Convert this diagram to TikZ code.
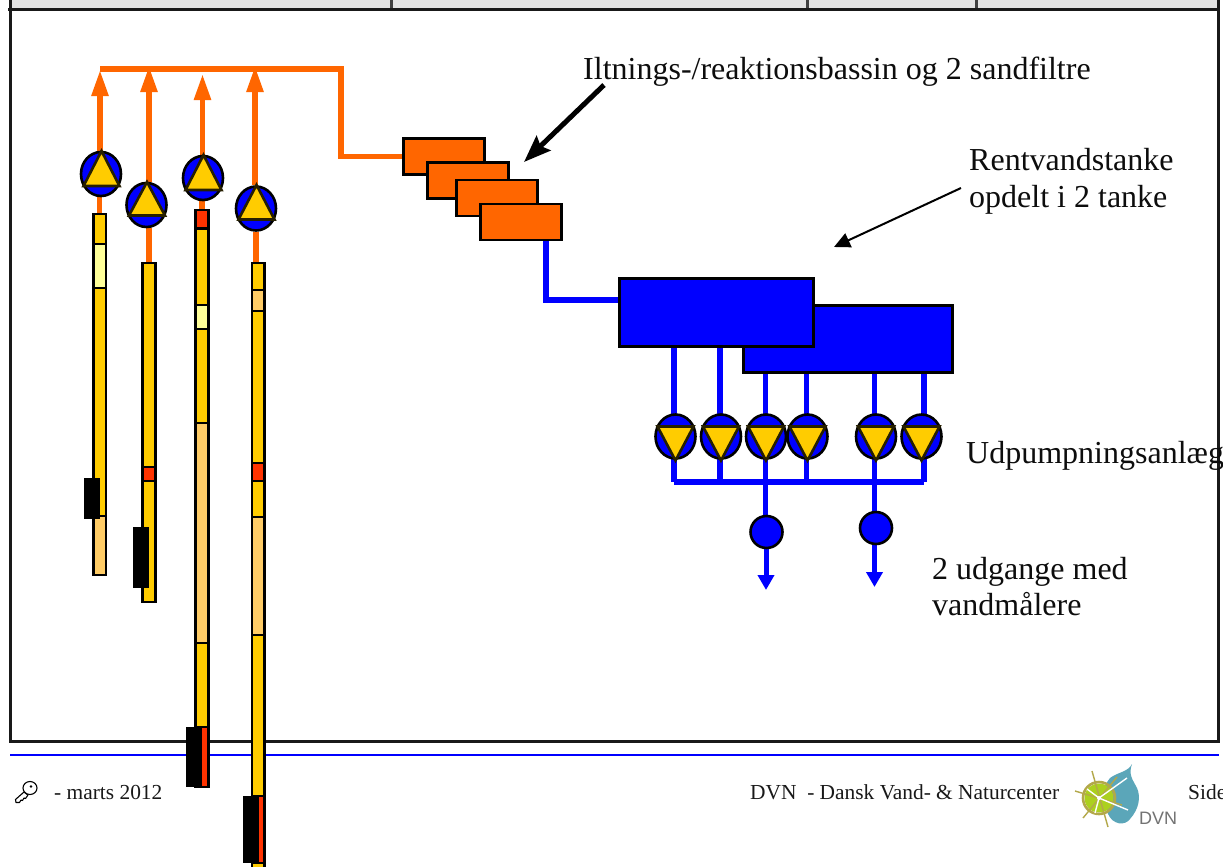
\documentclass[tikz,border=0pt]{standalone}
\usepackage{fontspec}
\setmainfont{Liberation Serif}
\newfontfamily\logofont{Liberation Sans}
\usetikzlibrary{arrows.meta,shapes.geometric,backgrounds}
\definecolor{ylw}{HTML}{FFCC00}
\definecolor{tan}{HTML}{FFCC66}
\definecolor{lyl}{HTML}{FFFF99}
\definecolor{rdd}{HTML}{FF3300}
\definecolor{org}{HTML}{FF6600}
\definecolor{blu}{HTML}{0000FF}
\definecolor{hdr}{HTML}{E3E3E3}
\definecolor{drop}{HTML}{5BA6B9}
\definecolor{lime}{HTML}{ACD01E}
\definecolor{rim}{HTML}{B3A84A}
\tikzset{
  x=1pt,y=-1pt,
  lbl/.style={anchor=base west,inner sep=0pt,font=\fontsize{32}{32}\selectfont,text=black!95},
  foot/.style={anchor=base west,inner sep=0pt,font=\fontsize{21.4}{22}\selectfont,text=black!90},
  oline/.style={draw=org,line width=5.5pt},
  bline/.style={draw=blu,line width=5.5pt},
  oarrow/.style={oline,-{Triangle[length=26pt,width=16pt]}},
  barrow/.style={bline,line width=5pt,-{Triangle[length=15pt,width=16pt]}},
  seg/.style={draw=black,line width=2.6pt,fill=#1},
  filterbox/.style={draw=black,line width=2.6pt,fill=org,inner sep=0pt,minimum width=81pt,minimum height=36pt},
  tankbox/.style={draw=black,line width=2.6pt,fill=blu,inner sep=0pt},
  pumpdisc/.style={ellipse,draw=black,line width=2.6pt,fill=blu,inner sep=0pt,minimum width=40pt,minimum height=44pt},
  meter/.style={circle,draw=black,line width=2.6pt,fill=blu,inner sep=0pt,minimum size=32pt},
  pumptri/.style={draw=black!85!ylw,line width=2.6pt,fill=ylw,line join=miter},
  sensor/.style={fill=black,draw=none},
}
% up pump: name, x, y, apex y, base y
\newcommand{\pumpup}[5]{%
  \node[pumpdisc] (#1) at (#2,#3) {};
  \draw[pumptri] (#2+0.5,#4) -- (#2+18.5,#5) -- (#2-17.5,#5) -- cycle;}
% down pump: name, x, y
\newcommand{\pumpdown}[3]{%
  \node[pumpdisc] (#1) at (#2,#3) {};
  \draw[pumptri] (#2,#3+24) -- (#2+18,#3-10) -- (#2-18,#3-10) -- cycle;}
\pgfdeclarelayer{pipes}
\pgfsetlayers{background,pipes,main}
\begin{document}
\begin{tikzpicture}
\useasboundingbox (0,0) rectangle (1223,867);
\begin{scope}[on background layer]
  \fill[white] (0,0) rectangle (1223,867);
  \fill[hdr] (10,0) rectangle (1218,9);
  \draw[line width=2.5pt,black!75] (391.5,0) -- (391.5,9) (807.5,0) -- (807.5,9) (976.5,0) -- (976.5,9);
  \draw[line width=3pt,black!90] (10.5,0) -- (10.5,741) -- (1218,741) -- (1218,0);
  \draw[line width=3pt,black!90] (8,10) -- (1220,10);
  \draw[line width=2.6pt,blu] (10,755) -- (1219,755);
\end{scope}

% --- wells
\foreach \a/\b/\c in {214/244/ylw,244/288/lyl,288/516/ylw,516/575/tan}
  \draw[seg=\c] (93.5,\a) rectangle (106,\b);
\node[sensor,inner sep=0pt,minimum width=16pt,minimum height=41pt] (s1) at (92,498.5) {};
\foreach \a/\b/\c in {263/467/ylw,467/481/rdd,481/602/ylw}
  \draw[seg=\c] (142.5,\a) rectangle (155.5,\b);
\node[sensor,inner sep=0pt,minimum width=16pt,minimum height=61pt] (s2) at (141,557.5) {};
\foreach \a/\b/\c in {210/228/rdd,229/305/ylw,305/329/lyl,329/423/ylw,423/643/tan,643/727/ylw,727/787/rdd}
  \draw[seg=\c] (195.5,\a) rectangle (208.5,\b);
\node[sensor,inner sep=0pt,minimum width=16pt,minimum height=60pt] (s3) at (194,757) {};
\foreach \a/\b/\c in {263/290/ylw,290/311/tan,311/463/ylw,463/481/rdd,481/517/ylw,517/635/tan,635/796/ylw,796/863/rdd,863/869/ylw}
  \draw[seg=\c] (252,\a) rectangle (264.5,\b);
\node[sensor,inner sep=0pt,minimum width=16pt,minimum height=67pt] (s4) at (251,829.5) {};
\coordinate (w1) at (99.5,214);
\coordinate (w2) at (149,263);
\coordinate (w3) at (202,210);
\coordinate (w4) at (256,263);

% --- well pumps
\pumpup{p1}{101}{174}{151}{186}
\pumpup{p2}{146.5}{205}{182}{215.5}
\pumpup{p3}{203}{178}{155}{190}
\pumpup{p4}{256}{208.5}{185}{219.5}

% --- filters
\node[filterbox] (f1) at (444,156.5) {};
\node[filterbox] (f2) at (468,180.5) {};
\node[filterbox] (f3) at (497,198) {};
\node[filterbox] (f4) at (521,222) {};

% --- tanks
\node[tankbox,minimum width=209pt,minimum height=67pt] (t2) at (848,339) {};
\node[tankbox,minimum width=194pt,minimum height=68pt] (t1) at (716.5,312.5) {};

% --- outlet pumps
\pumpdown{d1}{675.5}{436.5}
\pumpdown{d2}{721}{436.5}
\pumpdown{d3}{766}{436.5}
\pumpdown{d4}{807.5}{436.5}
\pumpdown{d5}{876}{436.5}
\pumpdown{d6}{921.5}{436.5}

% --- meters
\node[meter] (m1) at (766.5,532) {};
\node[meter] (m2) at (876,528) {};

% --- junctions and free ends
\coordinate (top1) at (100,69);
\coordinate (top2) at (341,69);
\coordinate (bend1) at (341,156.5);
\coordinate (a1) at (100,70);
\coordinate (a2) at (149,66);
\coordinate (a3) at (202.5,74);
\coordinate (a4) at (255,66);
\coordinate (bend2) at (546,300);
\coordinate (c1) at (674,482);
\coordinate (c2) at (924,482);
\coordinate (out1) at (766,590);
\coordinate (out2) at (874.5,587);
\coordinate (thickstart) at (604,85);
\coordinate (thicktip) at (524,162);
\coordinate (thinstart) at (961,188);
\coordinate (thintip) at (834,247);

\begin{pgfonlayer}{pipes}
  \draw[oline] (top1) -- (top2) -- (bend1) -- (f1.west);
  \draw[oarrow] (p1.north -| a1) -- (a1);
  \draw[oarrow] (p2.north -| a2) -- (a2);
  \draw[oarrow] (p3.north -| a3) -- (a3);
  \draw[oarrow] (p4.north -| a4) -- (a4);
  \draw[oline] (p1.south -| w1) -- (w1);
  \draw[oline] (p2.south -| w2) -- (w2);
  \draw[oline] (p3.south -| w3) -- (w3);
  \draw[oline] (p4.south -| w4) -- (w4);
  \draw[bline] (f4.south -| bend2) -- (bend2) -- (t1.west |- bend2);
  \draw[bline] (t1.south -| 674,0) -- (674,482);
  \draw[bline] (t1.south -| 720,0) -- (720,482);
  \draw[bline] (t2.south -| 765.5,0) -- (m1.north -| 765.5,0);
  \draw[bline] (t2.south -| 806.5,0) -- (806.5,482);
  \draw[bline] (t2.south -| 874.5,0) -- (m2.north -| 874.5,0);
  \draw[bline] (t2.south -| 924,0) -- (924,482);
  \draw[bline] (c1) -- (c2);
  \draw[barrow] (m1.south -| out1) -- (out1);
  \draw[barrow] (m2.south -| out2) -- (out2);
\end{pgfonlayer}

% --- annotation arrows
\draw[line width=5pt,-{Stealth[length=27pt,width=20pt,inset=4pt]}] (thickstart) -- (thicktip);
\draw[line width=2pt,-{Stealth[length=16pt,width=15pt,inset=0pt]}] (thinstart) -- (thintip);

% --- labels
\node[lbl] (l1) at (583,79) {Iltnings-/reaktionsbassin og 2 sandfiltre};
\node[lbl] (l2) at (969,170) {Rentvandstanke};
\node[lbl] (l3) at (969,207) {opdelt i 2 tanke};
\node[lbl] (l4) at (966,463) {Udpumpningsanlæg};
\node[lbl] (l5) at (932,579) {2 udgange med};
\node[lbl] (l6) at (932,615) {vandmålere};

\node[foot] (f_a) at (54,799) {- marts 2012};
\node[foot] (f_b) at (750,799) {DVN\ \ - Dansk Vand- \& Naturcenter};
\node[foot] (f_c) at (1188,799) {Side};

% --- key symbol
\draw[line width=1.1pt,black,line join=round,fill=white]
  (24,792) -- (15.5,799.5) -- (16,802.5) -- (19.5,802.5) -- (21,800) -- (22.5,800.5) -- (24,798) -- (25.5,798.5) -- (28,795) -- cycle;
\draw[line width=1.1pt,black,fill=white] (30,788) ellipse (7 and 6.5);
\fill[black] (31,786.5) circle (1.3);

% --- logo
\fill[drop]
  (1132,764) .. controls (1128,772) and (1118,772) .. (1110,778)
  .. controls (1102,786) and (1104,806) .. (1108,814)
  .. controls (1113,825) and (1125,826) .. (1130,819)
  .. controls (1139,809) and (1141,797) .. (1137,788)
  .. controls (1133,780) and (1128,775) .. (1132,764) -- cycle;
\fill[lime] (1099,798) circle (14.5);
\draw[line width=2.6pt,rim] (1099,798) circle (16);
\draw[line width=1.4pt,rim] (1092,771) -- (1108,827) (1075,791) -- (1122,805) (1083,818) -- (1117,777);
\draw[line width=1.4pt,white] (1099,798) -- (1127,778) (1099,798) -- (1128,810) (1099,798) -- (1095,813) (1099,798) -- (1087,789);
\fill[white] (1099,798) circle (2);
\node[anchor=base west,inner sep=0pt,font=\logofont\fontsize{18}{18}\selectfont,text=black!55] (logo) at (1139,824) {DVN};
\end{tikzpicture}
\end{document}
